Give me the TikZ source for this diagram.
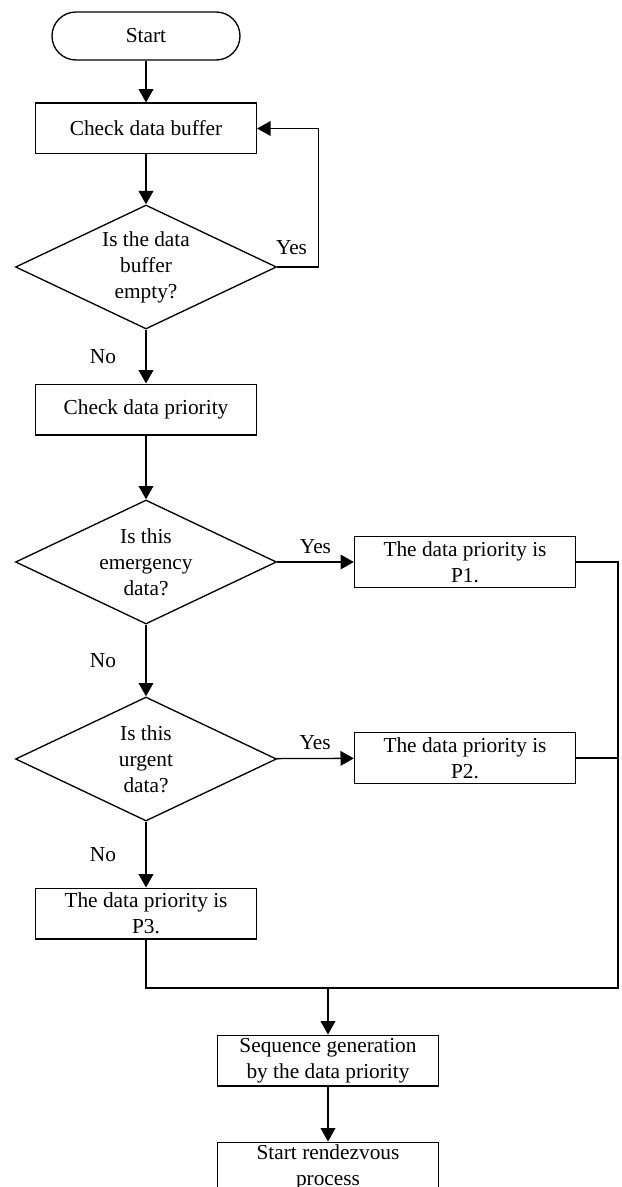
\documentclass[tikz,border=0pt]{standalone}
\usepackage{fontspec}
\setmainfont{Liberation Serif}
\usetikzlibrary{shapes.geometric,arrows.meta}

\begin{document}
\begin{tikzpicture}[x=0.75pt, y=-0.75pt,
    every node/.style={font=\fontsize{16}{19.5}\selectfont},
    line/.style={line width=1pt},
    arr/.style={line, -{Triangle[length=10pt,width=11pt]}},
    term/.style={draw, line width=1pt, rectangle, rounded corners=18pt,
        minimum width=141pt, minimum height=36pt, inner sep=0pt},
    box/.style={draw, line width=1pt, rectangle, align=center,
        minimum width=165.75pt, minimum height=38pt, inner sep=0pt},
    decision/.style={draw, line width=1pt, diamond, aspect=2.1, align=center,
        minimum width=195.75pt, minimum height=93pt, inner sep=0pt},
    lbl/.style={inner sep=0pt}]

    \clip (0,0) rectangle (621,1187);

    % main column
    \node[term] (start) at (146,36) {Start};
    \node[box] (chkbuf) at (146,128.5) {Check data buffer};
    \node[decision] (isempty) at (146,267) {Is the data\\buffer\\empty?};
    \node[box] (chkprio) at (146,409.5) {Check data priority};
    \node[decision] (isemerg) at (146,562) {Is this\\emergency\\data?};
    \node[decision] (isurgent) at (146,759) {Is this\\urgent\\data?};
    \node[box] (prio3) at (146,913.5) {The data priority is\\P3.};

    % priority boxes on the right
    \node[box] (prio1) at (465,562) {The data priority is\\P1.};
    \node[box] (prio2) at (465,758) {The data priority is\\P2.};

    % bottom
    \node[box] (seqgen) at (328,1060.5) {Sequence generation\\by the data priority};
    \node[box] (rendez) at (328,1167.5) {Start rendezvous\\process};

    \coordinate (rt1) at (618,562);
    \coordinate (join) at (328,988);

    \draw[arr] (start) -- (chkbuf);
    \draw[arr] (chkbuf) -- (isempty);
    \draw[arr] (isempty.east) -- node[lbl, above=9pt, pos=0.35] (yes0) {Yes} ++(41,0) |- (chkbuf.east);
    \draw[arr] (isempty) -- node[lbl, left=22pt] (no0) {No} (chkprio);
    \draw[arr] (chkprio) -- (isemerg);
    \draw[arr] (isemerg) -- node[lbl, above=6pt] (yes1) {Yes} (prio1);
    \draw[arr] (isemerg) -- node[lbl, left=22pt] (no1) {No} (isurgent);
    \draw[arr] (isurgent) -- node[lbl, above=6pt] (yes2) {Yes} (prio2);
    \draw[arr] (isurgent) -- node[lbl, left=22pt] (no2) {No} (prio3);

    % merging lines
    \draw[line] (prio1.east) -- (rt1) -- (rt1 |- join) -- (join);
    \draw[line] (prio2.east) -- (prio2.east -| rt1);
    \draw[line] (prio3.south) |- (join);
    \draw[arr] (join) -- (seqgen);
    \draw[arr] (seqgen) -- (rendez);
\end{tikzpicture}
\end{document}
